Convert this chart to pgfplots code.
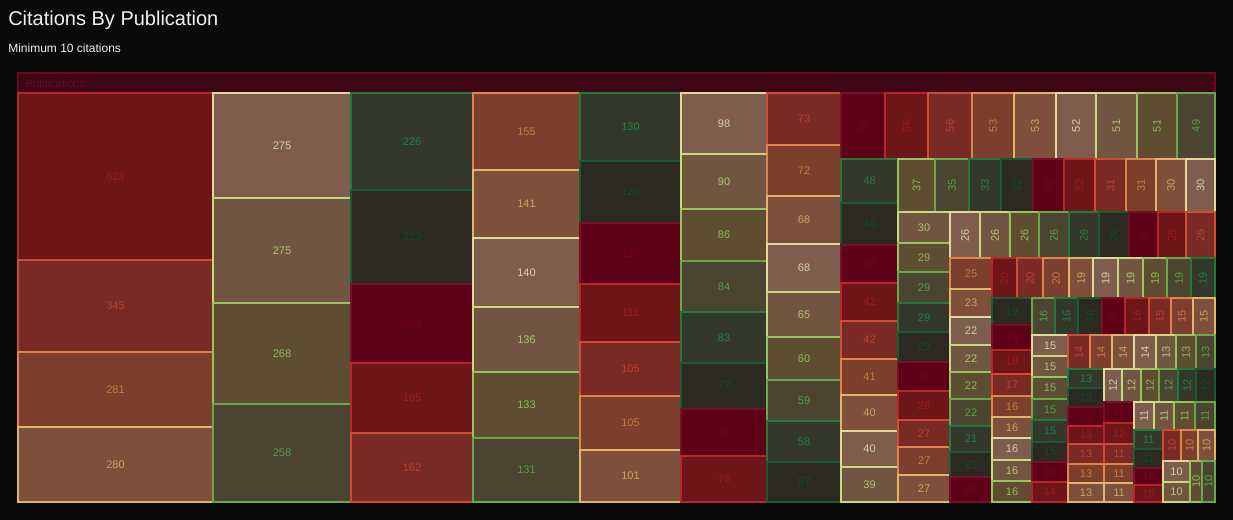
\documentclass[border=0pt]{standalone}
\usepackage{pgfplots}
\pgfplotsset{compat=1.18}
\usepackage{fontspec}
\setmainfont{Liberation Sans}
\definecolor{bgc}{HTML}{0A0A0A}
\definecolor{fP}{HTML}{3E0614}\definecolor{bP}{HTML}{6A0A20}\definecolor{tP}{HTML}{700A24}
\definecolor{fA}{HTML}{5F0019}\definecolor{bA}{HTML}{7A0F2A}\definecolor{tA}{HTML}{78001E}
\definecolor{fB}{HTML}{6E151A}\definecolor{bB}{HTML}{B8252A}\definecolor{tB}{HTML}{9C1C1C}
\definecolor{fC}{HTML}{7A2A24}\definecolor{bC}{HTML}{D04A36}\definecolor{tC}{HTML}{B8422E}
\definecolor{fD}{HTML}{7C3E2D}\definecolor{bD}{HTML}{E0844C}\definecolor{tD}{HTML}{C27C42}
\definecolor{fE}{HTML}{7E4F3B}\definecolor{bE}{HTML}{E2B46A}\definecolor{tE}{HTML}{CAA262}
\definecolor{fF}{HTML}{7E5C4E}\definecolor{bF}{HTML}{E2D89C}\definecolor{tF}{HTML}{D4D2A8}
\definecolor{fG}{HTML}{705640}\definecolor{bG}{HTML}{C8D87C}\definecolor{tG}{HTML}{B0C474}
\definecolor{fH}{HTML}{5E4D30}\definecolor{bH}{HTML}{98C45E}\definecolor{tH}{HTML}{8CB858}
\definecolor{fI}{HTML}{4A4430}\definecolor{bI}{HTML}{66A84A}\definecolor{tI}{HTML}{52A046}
\definecolor{fJ}{HTML}{34382A}\definecolor{bJ}{HTML}{1F7A3C}\definecolor{tJ}{HTML}{1C8040}
\definecolor{fK}{HTML}{2C2822}\definecolor{bK}{HTML}{1A5A30}\definecolor{tK}{HTML}{0E4E28}
\newcommand\lab{\fontsize{8.25}{9}\selectfont}
\newcommand\tile[6]{%
  \addplot[fill=f#6, draw=b#6, line width=1.1pt] coordinates {(#1,#2) (#3,#2) (#3,#4) (#1,#4)} -- cycle;
  \pgfmathsetmacro\mx{(#1+#3)/2}%
  \pgfmathsetmacro\my{(#2+#4)/2}%
  \pgfmathsetmacro\rt{((#4-#2)>(#3-#1))?90:0}%
  \edef\tmp{\noexpand\node[text=t#6, font=\noexpand\lab, rotate=\rt, inner sep=0pt] at (axis cs:\mx,\my) {#5};}%
  \tmp
}
\begin{document}
\begin{tikzpicture}
\begin{axis}[scale only axis, width=924.75pt, height=390pt,
  xmin=0, xmax=1233, ymin=0, ymax=520, y dir=reverse,
  axis line style={draw=none}, xtick=\empty, ytick=\empty,
  axis background/.style={fill=bgc}, clip=false]
\node[anchor=base west, inner sep=0pt, text=white!94!black, font=\fontsize{15}{18}\selectfont] at (axis cs:8,26) {Citations By Publication};
\node[anchor=base west, inner sep=0pt, text=white!94!black, font=\fontsize{9}{11}\selectfont] at (axis cs:8,52.3) {Minimum 10 citations};
\addplot[fill=fP, draw=bP, line width=1.1pt] coordinates {(18,73) (1215,73) (1215,502) (18,502)} -- cycle;
\node[anchor=base west, inner sep=0pt, text=tP, font=\lab] at (axis cs:25.5,87.5) {Publications};
% column 1
\tile{18}{93}{213}{260}{623}{B}
\tile{18}{260}{213}{352}{345}{C}
\tile{18}{352}{213}{427}{281}{D}
\tile{18}{427}{213}{502}{280}{E}
% column 2
\tile{213}{93}{351}{198}{275}{F}
\tile{213}{198}{351}{303}{275}{G}
\tile{213}{303}{351}{404}{268}{H}
\tile{213}{404}{351}{502}{258}{I}
% column 3
\tile{351}{93}{473}{190}{226}{J}
\tile{351}{190}{473}{284}{223}{K}
\tile{351}{284}{473}{363}{183}{A}
\tile{351}{363}{473}{433}{165}{B}
\tile{351}{433}{473}{502}{162}{C}
% column 4
\tile{473}{93}{580}{170}{155}{D}
\tile{473}{170}{580}{238}{141}{E}
\tile{473}{238}{580}{307}{140}{F}
\tile{473}{307}{580}{372}{136}{G}
\tile{473}{372}{580}{438}{133}{H}
\tile{473}{438}{580}{502}{131}{I}
% column 5
\tile{580}{93}{681}{161}{130}{J}
\tile{580}{161}{681}{223}{120}{K}
\tile{580}{223}{681}{284}{119}{A}
\tile{580}{284}{681}{342}{111}{B}
\tile{580}{342}{681}{396}{105}{C}
\tile{580}{396}{681}{450}{105}{D}
\tile{580}{450}{681}{502}{101}{E}
% column 6
\tile{681}{93}{767}{154}{98}{F}
\tile{681}{154}{767}{209}{90}{G}
\tile{681}{209}{767}{261}{86}{H}
\tile{681}{261}{767}{312}{84}{I}
\tile{681}{312}{767}{363}{83}{J}
\tile{681}{363}{767}{409}{77}{K}
\tile{681}{409}{767}{456}{76}{A}
\tile{681}{456}{767}{502}{75}{B}
% column 7
\tile{767}{93}{841}{145}{73}{C}
\tile{767}{145}{841}{196}{72}{D}
\tile{767}{196}{841}{244}{68}{E}
\tile{767}{244}{841}{292}{68}{F}
\tile{767}{292}{841}{337}{65}{G}
\tile{767}{337}{841}{380}{60}{H}
\tile{767}{380}{841}{421}{59}{I}
\tile{767}{421}{841}{462}{58}{J}
\tile{767}{462}{841}{502}{57}{K}
% top row
\tile{841}{93}{885}{159}{56}{A}
\tile{885}{93}{928}{159}{56}{B}
\tile{928}{93}{972}{159}{56}{C}
\tile{972}{93}{1014}{159}{53}{D}
\tile{1014}{93}{1056}{159}{53}{E}
\tile{1056}{93}{1096}{159}{52}{F}
\tile{1096}{93}{1137}{159}{51}{G}
\tile{1137}{93}{1177}{159}{51}{H}
\tile{1177}{93}{1215}{159}{49}{I}
% column 841-898
\tile{841}{159}{898}{203}{48}{J}
\tile{841}{203}{898}{245}{46}{K}
\tile{841}{245}{898}{283}{43}{A}
\tile{841}{283}{898}{321}{42}{B}
\tile{841}{321}{898}{359}{42}{C}
\tile{841}{359}{898}{395}{41}{D}
\tile{841}{395}{898}{431}{40}{E}
\tile{841}{431}{898}{467}{40}{F}
\tile{841}{467}{898}{502}{39}{G}
% row 159-212
\tile{898}{159}{935}{212}{37}{H}
\tile{935}{159}{969}{212}{35}{I}
\tile{969}{159}{1001}{212}{33}{J}
\tile{1001}{159}{1033}{212}{32}{K}
\tile{1033}{159}{1064}{212}{32}{A}
\tile{1064}{159}{1095}{212}{32}{B}
\tile{1095}{159}{1126}{212}{31}{C}
\tile{1126}{159}{1156}{212}{31}{D}
\tile{1156}{159}{1186}{212}{30}{E}
\tile{1186}{159}{1215}{212}{30}{F}
% column 898-950
\tile{898}{212}{950}{243}{30}{G}
\tile{898}{243}{950}{272}{29}{H}
\tile{898}{272}{950}{303}{29}{I}
\tile{898}{303}{950}{332}{29}{J}
\tile{898}{332}{950}{362}{29}{K}
\tile{898}{362}{950}{391}{29}{A}
\tile{898}{391}{950}{420}{28}{B}
\tile{898}{420}{950}{447}{27}{C}
\tile{898}{447}{950}{475}{27}{D}
\tile{898}{475}{950}{502}{27}{E}
% row 212-258
\tile{950}{212}{980}{258}{26}{F}
\tile{980}{212}{1010}{258}{26}{G}
\tile{1010}{212}{1039}{258}{26}{H}
\tile{1039}{212}{1069}{258}{26}{I}
\tile{1069}{212}{1099}{258}{26}{J}
\tile{1099}{212}{1129}{258}{26}{K}
\tile{1129}{212}{1158}{258}{25}{A}
\tile{1158}{212}{1186}{258}{25}{B}
\tile{1186}{212}{1215}{258}{25}{C}
% column 950-992
\tile{950}{258}{992}{289}{25}{D}
\tile{950}{289}{992}{317}{23}{E}
\tile{950}{317}{992}{345}{22}{F}
\tile{950}{345}{992}{372}{22}{G}
\tile{950}{372}{992}{399}{22}{H}
\tile{950}{399}{992}{426}{22}{I}
\tile{950}{426}{992}{452}{21}{J}
\tile{950}{452}{992}{477}{21}{K}
\tile{950}{477}{992}{502}{20}{A}
% row 258-298
\tile{992}{258}{1017}{298}{20}{B}
\tile{1017}{258}{1043}{298}{20}{C}
\tile{1043}{258}{1069}{298}{20}{D}
\tile{1069}{258}{1093}{298}{19}{E}
\tile{1093}{258}{1118}{298}{19}{F}
\tile{1118}{258}{1143}{298}{19}{G}
\tile{1143}{258}{1167}{298}{19}{H}
\tile{1167}{258}{1191}{298}{19}{I}
\tile{1191}{258}{1215}{298}{19}{J}
% column 992-1032
\tile{992}{298}{1032}{325}{19}{K}
\tile{992}{325}{1032}{350}{19}{A}
\tile{992}{350}{1032}{374}{18}{B}
\tile{992}{374}{1032}{396}{17}{C}
\tile{992}{396}{1032}{417}{16}{D}
\tile{992}{417}{1032}{438}{16}{E}
\tile{992}{438}{1032}{460}{16}{F}
\tile{992}{460}{1032}{481}{16}{G}
\tile{992}{481}{1032}{502}{16}{H}
% row 298-335
\tile{1032}{298}{1055}{335}{16}{I}
\tile{1055}{298}{1078}{335}{16}{J}
\tile{1078}{298}{1102}{335}{16}{K}
\tile{1102}{298}{1125}{335}{16}{A}
\tile{1125}{298}{1149}{335}{16}{B}
\tile{1149}{298}{1171}{335}{15}{C}
\tile{1171}{298}{1193}{335}{15}{D}
\tile{1193}{298}{1215}{335}{15}{E}
% column 1032-1068
\tile{1032}{335}{1068}{356}{15}{F}
\tile{1032}{356}{1068}{377}{15}{G}
\tile{1032}{377}{1068}{399}{15}{H}
\tile{1032}{399}{1068}{420}{15}{I}
\tile{1032}{420}{1068}{442}{15}{J}
\tile{1032}{442}{1068}{462}{15}{K}
\tile{1032}{462}{1068}{482}{14}{A}
\tile{1032}{482}{1068}{502}{14}{B}
% row 335-369
\tile{1068}{335}{1090}{369}{14}{C}
\tile{1090}{335}{1112}{369}{14}{D}
\tile{1112}{335}{1134}{369}{14}{E}
\tile{1134}{335}{1156}{369}{14}{F}
\tile{1156}{335}{1176}{369}{13}{G}
\tile{1176}{335}{1196}{369}{13}{H}
\tile{1196}{335}{1215}{369}{13}{I}
% column 1068-1104
\tile{1068}{369}{1104}{388}{13}{J}
\tile{1068}{388}{1104}{407}{13}{K}
\tile{1068}{407}{1104}{426}{13}{A}
\tile{1068}{426}{1104}{444}{13}{B}
\tile{1068}{444}{1104}{464}{13}{C}
\tile{1068}{464}{1104}{483}{13}{D}
\tile{1068}{483}{1104}{502}{13}{E}
% row 369-402
\tile{1104}{369}{1122}{402}{12}{F}
\tile{1122}{369}{1141}{402}{12}{G}
\tile{1141}{369}{1159}{402}{12}{H}
\tile{1159}{369}{1178}{402}{12}{I}
\tile{1178}{369}{1196}{402}{12}{J}
\tile{1196}{369}{1215}{402}{12}{K}
% column 1104-1134
\tile{1104}{402}{1134}{423}{12}{A}
\tile{1104}{423}{1134}{444}{12}{B}
\tile{1104}{444}{1134}{464}{11}{C}
\tile{1104}{464}{1134}{483}{11}{D}
\tile{1104}{483}{1134}{502}{11}{E}
% row 402-430
\tile{1134}{402}{1154}{430}{11}{F}
\tile{1154}{402}{1174}{430}{11}{G}
\tile{1174}{402}{1195}{430}{11}{H}
\tile{1195}{402}{1215}{430}{11}{I}
% column 1134-1163
\tile{1134}{430}{1163}{449}{11}{J}
\tile{1134}{449}{1163}{468}{11}{K}
\tile{1134}{468}{1163}{485}{10}{A}
\tile{1134}{485}{1163}{502}{10}{B}
% row 430-461
\tile{1163}{430}{1181}{461}{10}{C}
\tile{1181}{430}{1198}{461}{10}{D}
\tile{1198}{430}{1215}{461}{10}{E}
% rest
\tile{1163}{461}{1190}{482}{10}{F}
\tile{1163}{482}{1190}{502}{10}{G}
\tile{1190}{461}{1202}{502}{10}{H}
\tile{1202}{461}{1215}{502}{10}{I}
\end{axis}
\end{tikzpicture}
\end{document}
